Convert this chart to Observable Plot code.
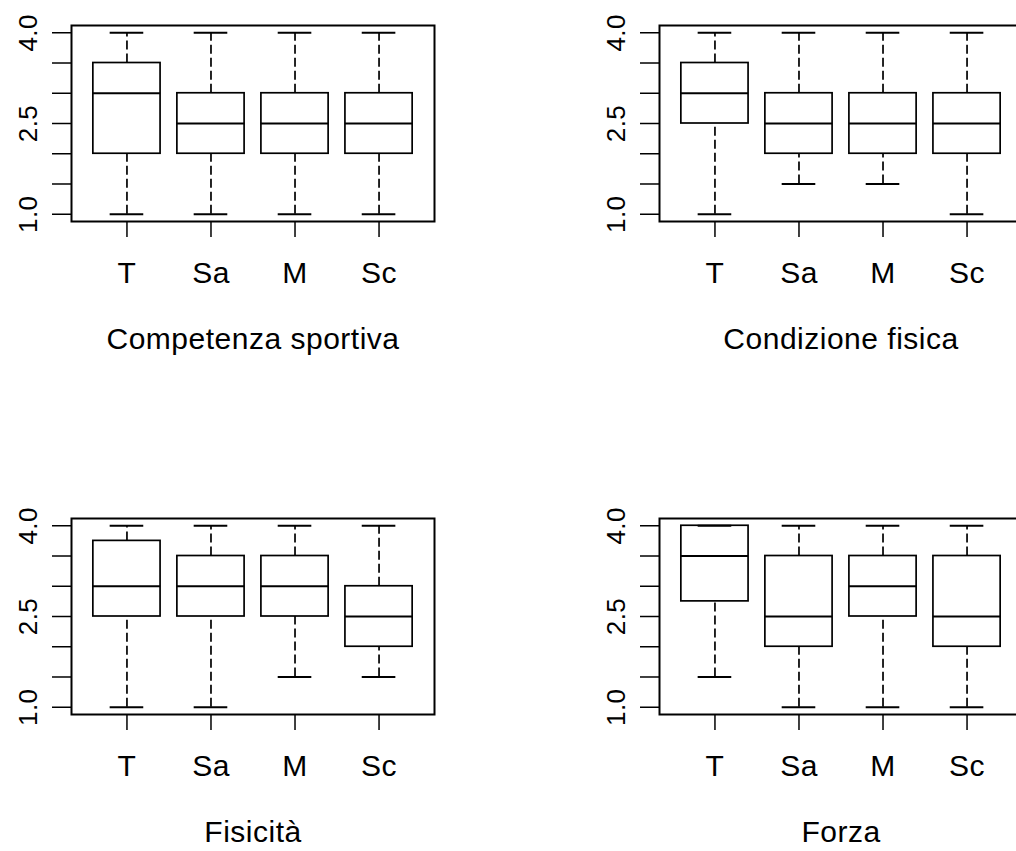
<!DOCTYPE html>
<html>
<head>
<meta charset="utf-8">
<script src="https://cdn.jsdelivr.net/npm/d3@7"></script>
<script src="https://cdn.jsdelivr.net/npm/@observablehq/plot@0.6"></script>
<style>
  html, body { margin: 0; padding: 0; background: white; overflow: hidden; }
  #wrap { position: relative; width: 1016px; height: 851px; overflow: hidden; background: white; }
  .panel { position: absolute; width: 460px; height: 361px; }
  .panel svg { max-width: none !important; width: 460px; height: 361px; }
  .panel svg text { letter-spacing: 0.5px; }
</style>
</head>
<body>
<div id="wrap"></div>
<script>
// ---- data ----
const categories = ["T", "Sa", "M", "Sc"];
const panelTitles = ["Competenza sportiva", "Condizione fisica", "Fisicità", "Forza"];
const yTicks = [1, 1.5, 2, 2.5, 3, 3.5, 4];
const yTickLabels = [1, 2.5, 4];

// Competenza sportiva
const competenzaLo  = [1, 1, 1, 1];
const competenzaQ1  = [2, 2, 2, 2];
const competenzaMed = [3, 2.5, 2.5, 2.5];
const competenzaQ3  = [3.5, 3, 3, 3];
const competenzaHi  = [4, 4, 4, 4];

// Condizione fisica
const condizioneLo  = [1, 1.5, 1.5, 1];
const condizioneQ1  = [2.5, 2, 2, 2];
const condizioneMed = [3, 2.5, 2.5, 2.5];
const condizioneQ3  = [3.5, 3, 3, 3];
const condizioneHi  = [4, 4, 4, 4];

// Fisicità
const fisicitaLo  = [1, 1, 1.5, 1.5];
const fisicitaQ1  = [2.5, 2.5, 2.5, 2];
const fisicitaMed = [3, 3, 3, 2.5];
const fisicitaQ3  = [3.75, 3.5, 3.5, 3];
const fisicitaHi  = [4, 4, 4, 4];

// Forza
const forzaLo  = [1.5, 1, 1, 1];
const forzaQ1  = [2.75, 2, 2.5, 2];
const forzaMed = [3.5, 2.5, 3, 2.5];
const forzaQ3  = [4, 3.5, 3.5, 3.5];
const forzaHi  = [4, 4, 4, 4];

const panelStats = [
  [competenzaLo, competenzaQ1, competenzaMed, competenzaQ3, competenzaHi],
  [condizioneLo, condizioneQ1, condizioneMed, condizioneQ3, condizioneHi],
  [fisicitaLo, fisicitaQ1, fisicitaMed, fisicitaQ3, fisicitaHi],
  [forzaLo, forzaQ1, forzaMed, forzaQ3, forzaHi]
];

// ---- layout ----
const positions = [[0, 0], [588, 0], [0, 493], [588, 493]];
const FONT = "'Liberation Sans', Arial, Helvetica, sans-serif";
const LW = 1.7;
const halfBox = 0.4, halfStaple = 0.2;

const wrap = document.getElementById("wrap");

panelStats.forEach((stats, p) => {
  const [lo, q1, med, q3, hi] = stats;
  const rows = categories.map((c, i) => ({
    i: i + 1, cat: c, lo: lo[i], q1: q1[i], med: med[i], q3: q3[i], hi: hi[i]
  }));

  const chart = Plot.plot({
    width: 460,
    height: 361,
    marginLeft: 71,
    marginRight: 26,
    marginTop: 25,
    marginBottom: 140,
    style: { fontFamily: FONT, fontSize: "30px", color: "black", background: "white", overflow: "visible", maxWidth: "none" },
    x: { domain: [0.34, 4.66], axis: null },
    y: { domain: [0.88, 4.12], axis: null },
    marks: [
      // whiskers
      Plot.ruleX(rows, { x: "i", y1: "q3", y2: "hi", stroke: "black", strokeWidth: LW, strokeDasharray: "9,4" }),
      Plot.ruleX(rows, { x: "i", y1: "lo", y2: "q1", stroke: "black", strokeWidth: LW, strokeDasharray: "9,4" }),
      // boxes
      Plot.rect(rows, { x1: d => d.i - halfBox, x2: d => d.i + halfBox, y1: "q1", y2: "q3", fill: "white", stroke: "black", strokeWidth: LW }),
      // medians
      Plot.ruleY(rows, { y: "med", x1: d => d.i - halfBox, x2: d => d.i + halfBox, stroke: "black", strokeWidth: LW + 0.3 }),
      // staples
      Plot.ruleY(rows, { y: "hi", x1: d => d.i - halfStaple, x2: d => d.i + halfStaple, stroke: "black", strokeWidth: LW + 0.3 }),
      Plot.ruleY(rows, { y: "lo", x1: d => d.i - halfStaple, x2: d => d.i + halfStaple, stroke: "black", strokeWidth: LW + 0.3 }),
      // frame
      Plot.frame({ stroke: "black", strokeWidth: 2 }),
      // y axis ticks
      Plot.axisY({ ticks: yTicks, tickSize: 19, tickFormat: () => "", strokeWidth: 1.5, anchor: "left" }),
      // y tick labels (rotated)
      Plot.text(yTickLabels, { y: d => d, frameAnchor: "left", text: d => d.toFixed(1), rotate: -90,
        textAnchor: "middle", lineAnchor: "bottom", dx: -35, fontSize: 26, fill: "black" }),
      // x axis
      Plot.axisX({ ticks: [1, 2, 3, 4], tickFormat: d => categories[d - 1], tickSize: 16, tickPadding: 24,
        strokeWidth: 1.5, anchor: "bottom", fontSize: 30, label: null }),
      // axis title
      Plot.text([panelTitles[p]], { frameAnchor: "bottom", dy: 127, lineAnchor: "bottom", fontSize: 30, fill: "black" })
    ]
  });

  const div = document.createElement("div");
  div.className = "panel";
  div.style.left = positions[p][0] + "px";
  div.style.top = positions[p][1] + "px";
  div.appendChild(chart);
  wrap.appendChild(div);
});
</script>
</body>
</html>
